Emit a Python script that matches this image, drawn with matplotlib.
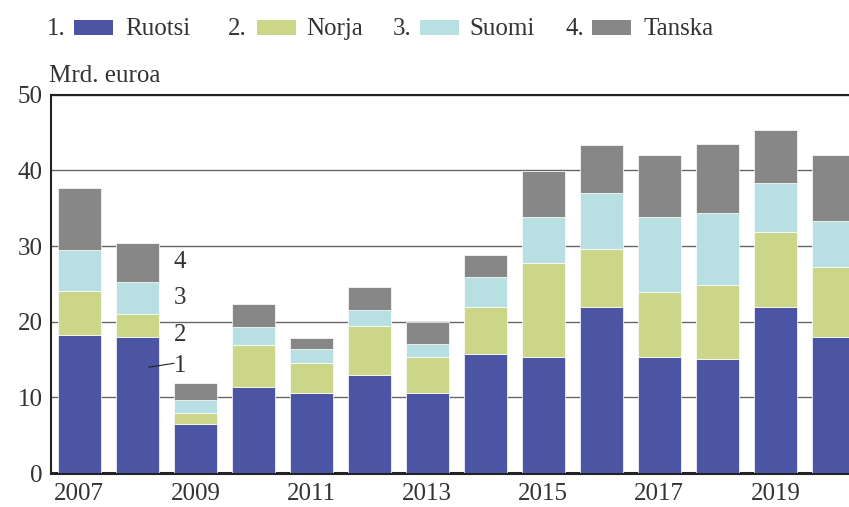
import matplotlib.pyplot as plt
from matplotlib.patches import Rectangle
import numpy as np

plt.rcParams.update({"font.family": ["Liberation Serif", "DejaVu Serif"], "font.size": 18})

years = list(range(2007, 2021))
ruotsi = [18.3, 18.0, 6.5, 11.4, 10.6, 13.0, 10.6, 15.8, 15.3, 22.0, 15.4, 15.1, 22.0, 18.0]
norja = [5.8, 3.0, 1.4, 5.5, 4.0, 6.5, 4.7, 6.1, 12.5, 7.6, 8.5, 9.8, 9.8, 9.3]
suomi = [5.4, 4.2, 1.8, 2.4, 1.8, 2.1, 1.8, 4.0, 6.0, 7.4, 9.9, 9.5, 6.6, 6.0]
tanska = [8.2, 5.2, 2.2, 3.0, 1.5, 3.0, 2.9, 2.9, 6.1, 6.4, 8.3, 9.1, 6.9, 8.8]

series = [("Ruotsi", ruotsi, "#4b55a3"), ("Norja", norja, "#cbd688"),
          ("Suomi", suomi, "#b8e0e2"), ("Tanska", tanska, "#878787")]
TXT = "#333333"

fig = plt.figure(figsize=(8.49, 5.07), dpi=100)
ax = fig.add_axes([0.060, 0.067, 0.94, 0.746])

x = np.arange(len(years))
bottom = np.zeros(len(years))
for name, vals, col in series:
    ax.bar(x, vals, 0.74, bottom=bottom, color=col, edgecolor="white", linewidth=0.5, zorder=3)
    bottom += np.array(vals)

ax.set_xlim(-0.49, 13.27)
ax.set_ylim(0, 50)
ax.set_yticks(range(0, 51, 10))
ax.set_xticks(x[::2])
ax.set_xticklabels([str(y) for y in years[::2]])
ax.tick_params(length=0, colors=TXT, labelsize=18, pad=6)
ax.tick_params(axis="x", pad=7)
ax.grid(axis="y", color="#666666", linewidth=1.0, zorder=0)
for s in ["left", "top"]:
    ax.spines[s].set_color("#222222")
    ax.spines[s].set_linewidth(1.5)
ax.spines["bottom"].set_color("#222222")
ax.spines["bottom"].set_linewidth(2.2)
ax.spines["right"].set_visible(False)

fig.text(0.058, 0.829, "Mrd. euroa", fontsize=18, color=TXT, ha="left", va="bottom")

# series numbers beside the 2008 bar
for lbl, yv in [("4", 27.9), ("3", 23.1), ("2", 18.2), ("1", 14.1)]:
    ax.text(1.73, yv, lbl, fontsize=18, color=TXT, ha="center", va="center", zorder=5)
ax.plot([1.2, 1.63], [14.0, 14.5], color="#222222", linewidth=0.8, zorder=5)

# legend row at top
ly = 0.943
items = [(47, 74, 125), (228, 257, 306), (393, 420, 469), (565, 592, 643)]
W, H = 849.0, 507.0
for i, ((nx, px, tx), (name, _, col)) in enumerate(zip(items, series)):
    fig.text(nx / W, ly, f"{i + 1}.", fontsize=18, color=TXT, ha="left", va="center")
    fig.patches.append(Rectangle((px / W, (507 - 35) / H), 39 / W, 15 / H,
                                 transform=fig.transFigure, facecolor=col, edgecolor="none"))
    fig.text(tx / W, ly, name, fontsize=18, color=TXT, ha="left", va="center")

fig.savefig("out.png", dpi=100)
